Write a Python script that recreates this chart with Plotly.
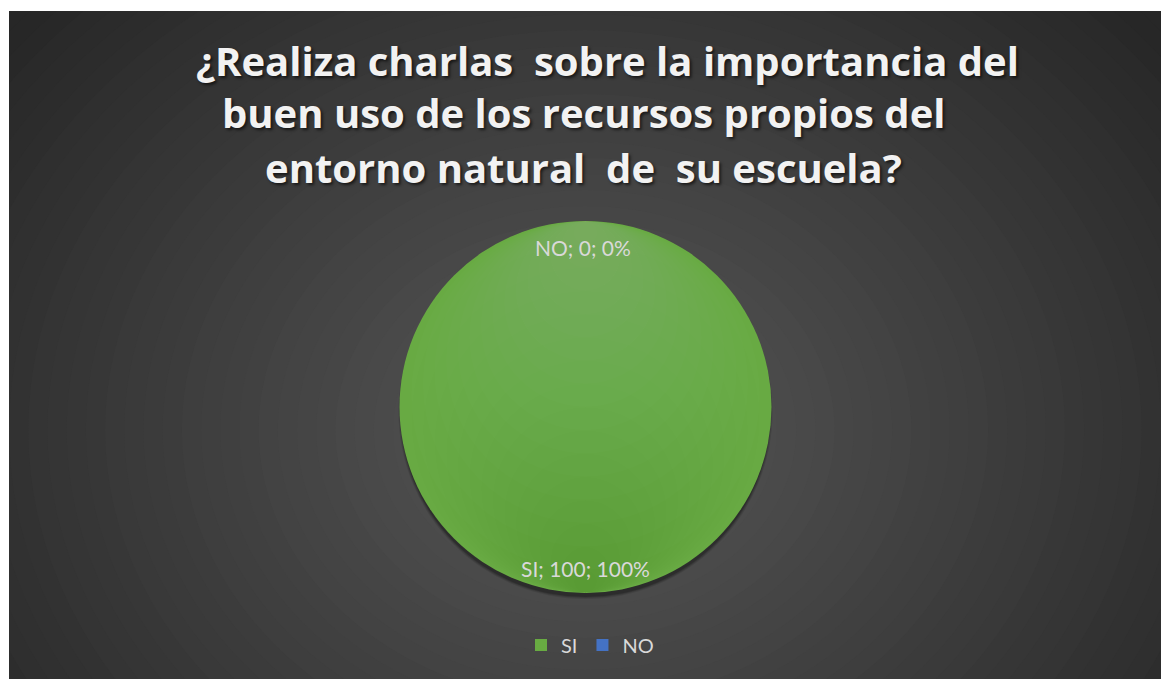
import plotly.graph_objects as go

# ---- data ----
categories = ["SI", "NO"]
values = [100, 0]
slice_colors = ["#68ab42", "#4472c4"]
title_lines = [
    "¿Realiza charlas  sobre la importancia del",
    "buen uso de los recursos propios del",
    "entorno natural  de  su escuela?",
]

W, H = 1161, 679
total = sum(values)
pcts = [round(v * 100 / total) for v in values]

fig = go.Figure()

fig.add_trace(go.Pie(
    labels=categories,
    values=values,
    sort=False,
    direction="clockwise",
    rotation=0,
    marker=dict(colors=slice_colors, line=dict(width=0)),
    textinfo="none",
    hoverinfo="skip",
    domain=dict(x=[399.5 / W, 771.5 / W], y=[1 - 593 / H, 1 - 221 / H]),
    showlegend=True,
))

# dummy invisible trace to set up pixel-coordinate axes for the background
fig.add_trace(go.Scatter(x=[9, 1161], y=[11, 679], mode="markers",
                         marker=dict(opacity=0), hoverinfo="skip", showlegend=False))

# radial background gradient (decorative)
shapes = []
cx, cy, A, B = 585, 430, 600, 500
N = 50
dmax = 1.6
for i in range(N):
    d = dmax * (1 - i / N)
    t = min(d / 1.25, 1.0)
    g = int(round(0x58 - (0x58 - 0x27) * t))
    col = f"rgb({g},{g},{g})"
    shapes.append(dict(type="circle", xref="x", yref="y",
                       x0=cx - A * d, x1=cx + A * d, y0=cy - B * d, y1=cy + B * d,
                       fillcolor=col, line=dict(width=0), layer="below"))
# soft shadow under pie (mostly at the bottom)
pcx, pcy, pr = 585.5, 407, 186
for k, a in enumerate([0.10, 0.14, 0.20]):
    r = pr + 1 - k
    shapes.append(dict(type="circle", xref="x", yref="y",
                       x0=pcx - r, x1=pcx + r, y0=pcy + 5 - r, y1=pcy + 5 + r,
                       fillcolor=f"rgba(0,0,0,{a})", line=dict(width=0), layer="below"))
# vertical sheen on the pie (lighter top, darker bottom) - decorative overlay
M = 16
for i in range(M):
    r = pr * (M - i) / M
    shapes.append(dict(type="circle", xref="x", yref="y",
                       x0=pcx - r, x1=pcx + r, y0=pcy - pr, y1=pcy - pr + 2 * r,
                       fillcolor="white", opacity=0.010, line=dict(width=0), layer="above"))
    shapes.append(dict(type="circle", xref="x", yref="y",
                       x0=pcx - r, x1=pcx + r, y0=pcy + pr - 2 * r, y1=pcy + pr,
                       fillcolor="black", opacity=0.004, line=dict(width=0), layer="above"))

annotations = []
title_pos = [(607, 60), (584, 113), (583, 167)]
for line, (x, y) in zip(title_lines, title_pos):
    annotations.append(dict(
        text=f"<b>{line}</b>", x=x / W, y=1 - y / H, xref="paper", yref="paper",
        xanchor="center", yanchor="middle", showarrow=False,
        font=dict(family="Open Sans", size=40, color="#f2f2f2",
                  shadow="2px 2px 3px rgba(0,0,0,0.6)"),
    ))

label_pos = {"NO": (583, 247), "SI": (585, 568)}
for c, v, p in zip(categories, values, pcts):
    x, y = label_pos[c]
    annotations.append(dict(
        text=f"{c}; {v}; {p}%", x=x / W, y=1 - y / H, xref="paper", yref="paper",
        xanchor="center", yanchor="middle", showarrow=False,
        font=dict(family="Lato", size=21, color="#d9d9d9"),
    ))

fig.update_layout(
    width=W, height=H,
    margin=dict(l=0, r=0, t=0, b=0),
    paper_bgcolor="white",
    plot_bgcolor="#272727",
    xaxis=dict(domain=[9 / W, 1], range=[9, 1161], visible=False, fixedrange=True),
    yaxis=dict(domain=[0, 1 - 11 / H], range=[679, 11], visible=False, fixedrange=True),
    shapes=shapes,
    annotations=annotations,
    legend=dict(orientation="h", x=590 / W, xanchor="center", y=1 - 645 / H, yanchor="middle",
                font=dict(family="Lato", size=20, color="#d9d9d9"),
                bgcolor="rgba(0,0,0,0)", itemwidth=30, tracegroupgap=0),
)

fig.write_html("out.html", config={"displayModeBar": False},
               post_script="document.body.style.margin='0';document.body.style.overflow='hidden';")
